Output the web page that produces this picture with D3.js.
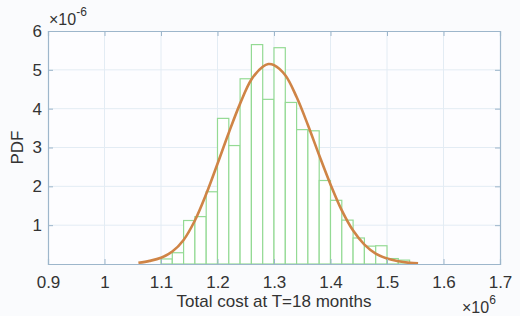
<!DOCTYPE html>
<html>
<head>
<meta charset="utf-8">
<script src="https://cdn.jsdelivr.net/npm/d3@7"></script>
<style>
  html, body { margin: 0; padding: 0; background: #fafbfd; }
  svg { display: block; font-family: "Liberation Sans", Arial, Helvetica, sans-serif; }
</style>
</head>
<body>
<div id="chart"></div>
<script>
// histogram bins (left edge, x10^6) and density (x10^-6)
const binStarts = [1.10, 1.12, 1.14, 1.16, 1.18, 1.20, 1.22, 1.24, 1.26, 1.28, 1.30,
                   1.32, 1.34, 1.36, 1.38, 1.40, 1.42, 1.44, 1.46, 1.48, 1.50, 1.52];
const binDensity = [0.13, 0.29, 1.12, 1.22, 1.86, 3.75, 3.05, 4.77, 5.65, 4.24, 5.57,
                    4.16, 3.46, 3.43, 2.15, 1.64, 1.13, 0.67, 0.46, 0.47, 0.14, 0.10];
const binWidth = 0.02;

// fitted pdf curve
const curveX = [1.06, 1.08, 1.10, 1.12, 1.14, 1.16, 1.18, 1.20, 1.22, 1.24, 1.26, 1.28, 1.29, 1.30,
                1.32, 1.34, 1.36, 1.38, 1.40, 1.42, 1.44, 1.46, 1.48, 1.50, 1.52, 1.54, 1.555];
const curveY = [0.03, 0.08, 0.16, 0.32, 0.62, 1.12, 1.80, 2.58, 3.38, 4.13, 4.75, 5.08, 5.15, 5.12,
                4.86, 4.30, 3.58, 2.80, 2.05, 1.38, 0.86, 0.50, 0.27, 0.14, 0.07, 0.03, 0.015];

const xTicks = [0.9, 1.0, 1.1, 1.2, 1.3, 1.4, 1.5, 1.6, 1.7];
const xTickLabels = ['0.9', '1', '1.1', '1.2', '1.3', '1.4', '1.5', '1.6', '1.7'];
const yTicks = [1, 2, 3, 4, 5, 6];
const yTickLabels = ['1', '2', '3', '4', '5', '6'];

const W = 520, H = 316;
const margin = { top: 31, right: 20, bottom: 52, left: 48 };
const width = W - margin.left - margin.right;
const height = H - margin.top - margin.bottom;

const svg = d3.select('#chart').append('svg')
  .attr('width', W)
  .attr('height', H);

const g = svg.append('g')
  .attr('transform', `translate(${margin.left},${margin.top})`);

const x = d3.scaleLinear().domain([0.9, 1.7]).range([0, width]);
const y = d3.scaleLinear().domain([0, 6]).range([height, 0]);

g.append('rect')
  .attr('width', width)
  .attr('height', height)
  .attr('fill', '#fdfdff');

// grid
g.append('g').selectAll('line')
  .data(xTicks.slice(1, -1))
  .enter().append('line')
  .attr('x1', d => x(d)).attr('x2', d => x(d))
  .attr('y1', 0).attr('y2', height)
  .attr('stroke', '#e3ecf4').attr('stroke-width', 1);

g.append('g').selectAll('line')
  .data(yTicks.slice(0, -1))
  .enter().append('line')
  .attr('x1', 0).attr('x2', width)
  .attr('y1', d => y(d)).attr('y2', d => y(d))
  .attr('stroke', '#e3ecf4').attr('stroke-width', 1);

// histogram
g.append('g').selectAll('rect')
  .data(binStarts)
  .enter().append('rect')
  .attr('x', d => x(d))
  .attr('width', d => x(d + binWidth) - x(d))
  .attr('y', (d, i) => y(binDensity[i]))
  .attr('height', (d, i) => y(0) - y(binDensity[i]))
  .attr('fill', '#ffffff')
  .attr('stroke', '#94da94')
  .attr('stroke-width', 1.2);

// fitted curve
const line = d3.line()
  .x((d, i) => x(curveX[i]))
  .y(d => y(d))
  .curve(d3.curveCatmullRom);

g.append('path')
  .datum(curveY)
  .attr('fill', 'none')
  .attr('stroke', '#cf8446')
  .attr('stroke-width', 2.6)
  .attr('d', line);

// axes
const axisColor = '#9db6cb';
const styleAxis = sel => {
  sel.select('.domain').attr('stroke', axisColor).attr('stroke-width', 1.2);
  sel.selectAll('.tick line').attr('stroke', axisColor);
  sel.selectAll('.tick text').attr('fill', '#333').style('font-size', '17px');
};

g.append('g')
  .attr('transform', `translate(0,${height})`)
  .call(d3.axisBottom(x).tickValues(xTicks).tickSize(-5).tickPadding(12)
    .tickFormat((d, i) => xTickLabels[i]))
  .call(styleAxis);

g.append('g')
  .call(d3.axisLeft(y).tickValues(yTicks).tickSize(-5).tickPadding(6)
    .tickFormat((d, i) => yTickLabels[i]))
  .call(styleAxis);

g.append('g')
  .call(d3.axisTop(x).tickValues(xTicks).tickSize(-5).tickFormat(''))
  .call(styleAxis);

g.append('g')
  .attr('transform', `translate(${width},0)`)
  .call(d3.axisRight(y).tickValues([0].concat(yTicks)).tickSize(-5).tickFormat(''))
  .call(styleAxis);

// labels
svg.append('text')
  .attr('x', margin.left + width / 2)
  .attr('y', 307)
  .attr('text-anchor', 'middle')
  .attr('fill', '#333')
  .style('font-size', '17px')
  .text('Total cost at T=18 months');

svg.append('text')
  .attr('transform', `translate(23,${margin.top + height / 2}) rotate(-90)`)
  .attr('text-anchor', 'middle')
  .attr('fill', '#333')
  .style('font-size', '17px')
  .text('PDF');

// exponent labels
const expTop = svg.append('text')
  .attr('x', 49).attr('y', 25)
  .attr('fill', '#333')
  .style('font-size', '16px');
expTop.append('tspan').text('\u00d710');
expTop.append('tspan').attr('dy', -9).style('font-size', '12px').text('-6');

const expBottom = svg.append('text')
  .attr('x', 462).attr('y', 313)
  .attr('fill', '#333')
  .style('font-size', '16px');
expBottom.append('tspan').text('\u00d710');
expBottom.append('tspan').attr('dy', -9).style('font-size', '12px').text('6');
</script>
</body>
</html>
